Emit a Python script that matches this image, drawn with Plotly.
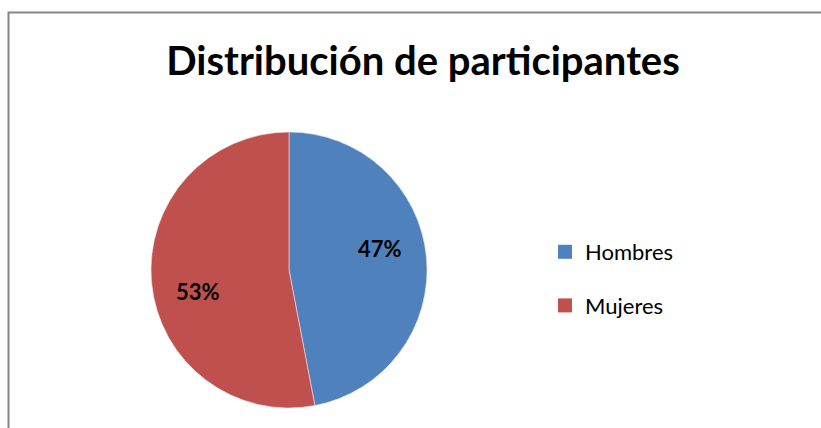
import math
import plotly.graph_objects as go

categories = ["Hombres", "Mujeres"]
values = [47, 53]
colors = ["#4F81BD", "#C0504D"]
title_text = "Distribución de participantes"

W, H = 821, 428
# pie geometry (pixels)
CX, CY, R = 289, 270, 138
LABEL_R = 0.68        # label distance as fraction of radius
LABEL_SHIFT = 8       # degrees, Excel-like label placement
FONT = "Lato"

fig = go.Figure()
fig.add_trace(go.Pie(
    labels=categories,
    values=values,
    sort=False,
    direction="clockwise",
    rotation=0,
    marker=dict(colors=colors, line=dict(color="#E8E8E8", width=0.6)),
    textinfo="none",
    domain=dict(x=[(CX - R) / W, (CX + R) / W], y=[1 - (CY + R) / H, 1 - (CY - R) / H]),
    hoverinfo="label+percent",
    showlegend=False,
))

# legend entries
for cat, col in zip(categories, colors):
    fig.add_trace(go.Scatter(
        x=[None], y=[None], mode="markers", name=cat,
        legendgroup=cat,
        marker=dict(symbol="square", size=14, color=col),
        xaxis="x", yaxis="y",
    ))

# percentage labels computed from values
total = sum(values)
cum = 0
annotations = []
for v in values:
    mid = (cum + v / 2) / total * 360 - LABEL_SHIFT
    cum += v
    px = CX + LABEL_R * R * math.sin(math.radians(mid))
    py = CY - LABEL_R * R * math.cos(math.radians(mid))
    annotations.append(dict(
        x=px / W, y=1 - py / H, xref="paper", yref="paper",
        text="<b>%d%%</b>" % round(100 * v / total),
        showarrow=False, xanchor="center", yanchor="middle",
        font=dict(family=FONT, size=22, color="black"),
    ))

fig.update_layout(
    width=W, height=H,
    margin=dict(l=0, r=0, t=0, b=0),
    paper_bgcolor="white",
    plot_bgcolor="rgba(0,0,0,0)",
    xaxis=dict(visible=False),
    yaxis=dict(visible=False),
    title=dict(
        text="<b>" + title_text + "</b>",
        x=423 / W, xanchor="center",
        y=1 - 61 / H, yanchor="middle",
        font=dict(family=FONT, size=40, color="black"),
    ),
    legend=dict(
        x=545 / W, xanchor="left",
        y=1 - 279 / H, yanchor="middle",
        font=dict(family=FONT, size=22, color="black"),
        tracegroupgap=22,
        itemwidth=30,
        bgcolor="rgba(0,0,0,0)",
    ),
    annotations=annotations,
    shapes=[dict(
        type="rect", xref="paper", yref="paper",
        x0=8.5 / W, x1=1.02, y0=-0.02, y1=1 - 12.5 / H,
        line=dict(color="#868686", width=2),
        fillcolor="rgba(0,0,0,0)",
    )],
)

fig.write_html(
    "out.html",
    config={"displayModeBar": False},
    post_script="document.body.style.margin='0px';document.body.style.overflow='hidden';",
)
